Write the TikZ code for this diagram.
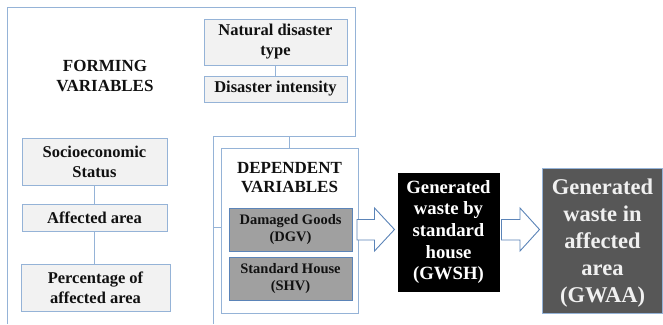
\documentclass[tikz,border=0pt]{standalone}
\usepackage{fontspec}
\setmainfont{Liberation Serif}
\usetikzlibrary{calc}
\definecolor{edge}{HTML}{95B3D7}
\definecolor{lightfill}{HTML}{F2F2F2}
\definecolor{midfill}{HTML}{A0A0A0}
\definecolor{midedge}{HTML}{5B84B8}
\definecolor{darkfill}{HTML}{575757}
\definecolor{txt}{HTML}{111111}
\definecolor{arrowedge}{HTML}{5B84B8}
\tikzset{
  lightbox/.style={draw=edge, line width=0.9pt, fill=lightfill, inner sep=0pt, align=center, text=txt,
     font=\fontsize{16.5}{20}\selectfont\bfseries},
  midbox/.style={draw=midedge, line width=0.9pt, fill=midfill, inner sep=0pt, align=center, text=txt,
     font=\fontsize{14.5}{17}\selectfont\bfseries},
  headtext/.style={inner sep=0pt, align=center, text=txt, font=\fontsize{17}{19.5}\selectfont\bfseries},
  link/.style={draw=edge, line width=0.9pt},
  blockarrow/.style={draw=arrowedge, line width=0.9pt, fill=white, line join=miter}
}
\begin{document}
\begin{tikzpicture}[x=1pt,y=-1pt]
\useasboundingbox (0,0) rectangle (663,324);
% frame
\coordinate (fa) at (289,136);
\coordinate (stub) at (213,227);
\draw[link] (7,324) -- (7,7) -- (355,7) -- (355,136) -- (213,136) -- (213,324);
% upper boxes
\node[lightbox, minimum width=143pt, minimum height=46pt] (ndt) at (275.5,42) {Natural disaster\\type};
\node[lightbox, minimum width=143pt, minimum height=26pt] (di) at (275.5,89) {Disaster intensity};
\node[headtext] (fv) at (105,76) {FORMING\\VARIABLES};
% left boxes
\node[lightbox, minimum width=145pt, minimum height=47pt] (socio) at (94.5,161.5) {Socioeconomic\\Status};
\node[lightbox, minimum width=145pt, minimum height=27pt] (aff) at (94.5,217.5) {Affected area};
\node[lightbox, minimum width=149pt, minimum height=47pt] (pct) at (95.5,287.5) {Percentage of\\affected area};
% dependent
\node[draw=edge, line width=0.9pt, fill=white, minimum width=137pt, minimum height=165pt] (dep) at (289.5,230.5) {};
\node[headtext] (dv) at (289.5,177.5) {DEPENDENT\\VARIABLES};
\node[midbox, minimum width=123pt, minimum height=43pt] (dgv) at (290.5,229.5) {Damaged Goods\\(DGV)};
\node[midbox, minimum width=123pt, minimum height=43pt] (shv) at (290.5,278.5) {Standard House\\(SHV)};
% outputs
\node[draw=black, fill=black, inner sep=0pt, minimum width=101pt, minimum height=118pt, align=center, text=white,
  font=\fontsize{18.7}{21.7}\selectfont\bfseries] (gwsh) at (448.5,232) {Generated\\waste by\\standard\\house\\(GWSH)};
\node[draw=edge, line width=0.9pt, fill=darkfill, inner sep=0pt, minimum width=120pt, minimum height=145pt] (gwaa) at (602.5,240.5) {};
\node[inner sep=0pt, align=center, text=white!94!black,
  font=\fontsize{22.5}{27}\selectfont\bfseries] (gwaat) at (602.5,243.5) {Generated\\waste in\\affected\\area\\(GWAA)};
% connectors
\draw[link] (ndt) -- (di);
\draw[link] (socio.south) -- (socio.south |- aff.north);
\draw[link] (aff.south) -- (aff.south |- pct.north);
\draw[link] (fa) -- (fa |- dep.north);
\draw[link] (stub) -- (stub -| dep.west);
% block arrows
\draw[blockarrow] (357,219.5) -- (374.5,219.5) -- (374.5,208) -- (394.5,229.5) -- (374.5,251) -- (374.5,240) -- (357,240) -- cycle;
\draw[blockarrow] (501.5,219.5) -- (520,219.5) -- (520,208) -- (539.5,229.5) -- (520,251) -- (520,240) -- (501.5,240) -- cycle;
\end{tikzpicture}
\end{document}
